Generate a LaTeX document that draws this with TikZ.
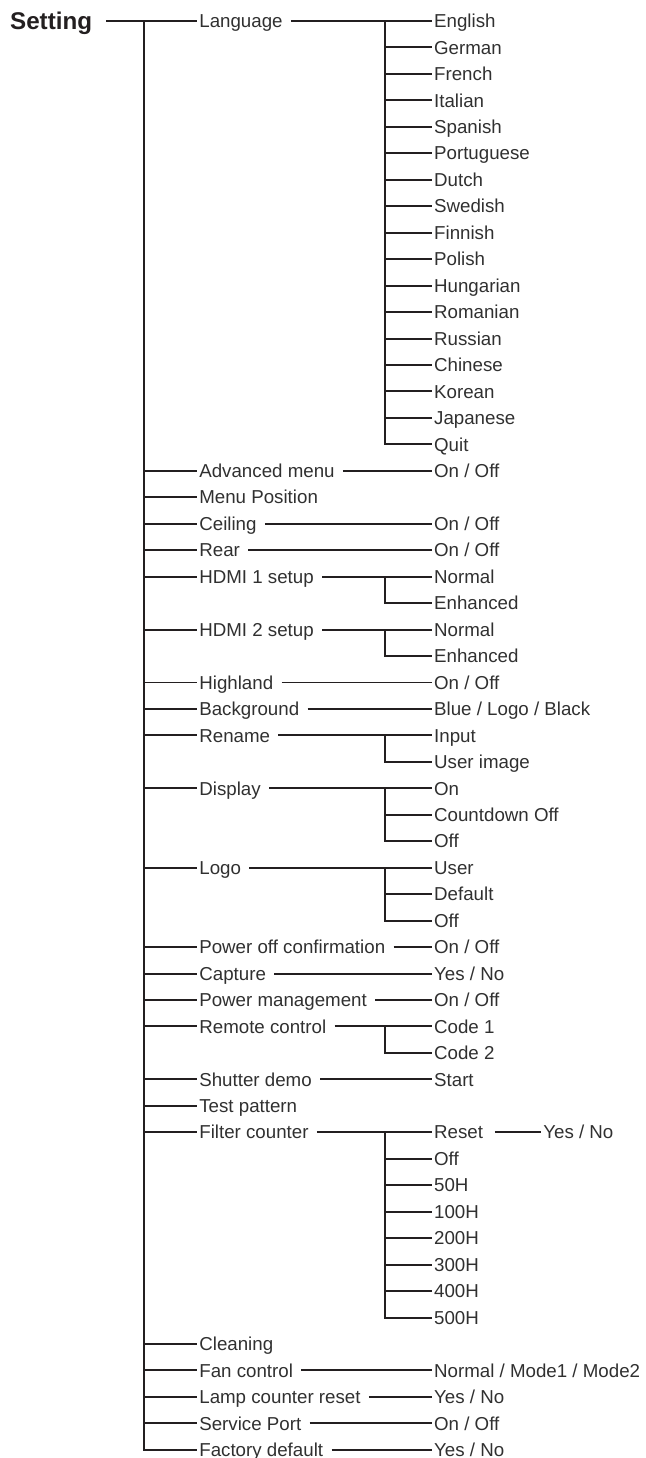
\documentclass[tikz,border=0pt]{standalone}
\usepackage{fontspec}
\setmainfont{Liberation Sans}
\usepackage{xcolor}
\usepackage{tikz}
\definecolor{ink}{RGB}{35,31,32}
\definecolor{type}{RGB}{48,48,48}

\begin{document}
\begin{tikzpicture}[
  x=1cm, y=0.8cm,
  font=\fontsize{16.1pt}{19pt}\selectfont,
  item/.style={anchor=west, inner xsep=2pt, inner ysep=0pt, text height=11.5pt,
               text depth=0pt, text=type},
  root/.style={item, inner xsep=0pt, text=ink, text height=15pt,
               font=\fontsize{20.8pt}{24pt}\selectfont\bfseries},
  link/.style={draw=ink, line width=1.7pt},
  lead/.style={link, shorten <=5pt},
]
  \useasboundingbox (0,0.794) rectangle (19.53,-54.31);

  % Root, trunk and the column where submenus fork
  \node[root] (setting) at (0.30,0) {Setting};
  \coordinate (trunk) at (4.354,0);
  \coordinate (fork) at (11.64,0);

  % First level
  \node[item] (lang)    at (5.95,0)   {Language};
  \node[item] (adv)     at (5.95,-17) {Advanced menu};
  \node[item] (menupos) at (5.95,-18) {Menu Position};
  \node[item] (ceil)    at (5.95,-19) {Ceiling};
  \node[item] (rear)    at (5.95,-20) {Rear};
  \node[item] (hdmia)   at (5.95,-21) {HDMI 1 setup};
  \node[item] (hdmib)   at (5.95,-23) {HDMI 2 setup};
  \node[item] (high)    at (5.95,-25) {Highland};
  \node[item] (bg)      at (5.95,-26) {Background};
  \node[item] (ren)     at (5.95,-27) {Rename};
  \node[item] (disp)    at (5.95,-29) {Display};
  \node[item] (logo)    at (5.95,-32) {Logo};
  \node[item] (poff)    at (5.95,-35) {Power off confirmation};
  \node[item] (capt)    at (5.95,-36) {Capture};
  \node[item] (pman)    at (5.95,-37) {Power management};
  \node[item] (remote)  at (5.95,-38) {Remote control};
  \node[item] (shut)    at (5.95,-40) {Shutter demo};
  \node[item] (test)    at (5.95,-41) {Test pattern};
  \node[item] (filt)    at (5.95,-42) {Filter counter};
  \node[item] (clean)   at (5.95,-50) {Cleaning};
  \node[item] (fan)     at (5.95,-51) {Fan control};
  \node[item] (lamp)    at (5.95,-52) {Lamp counter reset};
  \node[item] (port)    at (5.95,-53) {Service Port};
  \node[item] (fact)    at (5.95,-54) {Factory default};

  % Second level
  \foreach \lg [count=\i from 0] in {English,German,French,Italian,Spanish,
      Portuguese,Dutch,Swedish,Finnish,Polish,Hungarian,Romanian,Russian,
      Chinese,Korean,Japanese,Quit}
    \node[item] (lg\i) at (13.05,-\i) {\lg};
  \node[item] (advv)    at (13.05,-17) {On / Off};
  \node[item] (ceilv)   at (13.05,-19) {On / Off};
  \node[item] (rearv)   at (13.05,-20) {On / Off};
  \node[item] (hdmian)  at (13.05,-21) {Normal};
  \node[item] (hdmiae)  at (13.05,-22) {Enhanced};
  \node[item] (hdmibn)  at (13.05,-23) {Normal};
  \node[item] (hdmibe)  at (13.05,-24) {Enhanced};
  \node[item] (highv)   at (13.05,-25) {On / Off};
  \node[item] (bgv)     at (13.05,-26) {Blue / Logo / Black};
  \node[item] (renin)   at (13.05,-27) {Input};
  \node[item] (renuser) at (13.05,-28) {User image};
  \node[item] (dispon)  at (13.05,-29) {On};
  \node[item] (dispcd)  at (13.05,-30) {Countdown Off};
  \node[item] (dispoff) at (13.05,-31) {Off};
  \node[item] (logouser) at (13.05,-32) {User};
  \node[item] (logodef) at (13.05,-33) {Default};
  \node[item] (logooff) at (13.05,-34) {Off};
  \node[item] (poffv)   at (13.05,-35) {On / Off};
  \node[item] (captv)   at (13.05,-36) {Yes / No};
  \node[item] (pmanv)   at (13.05,-37) {On / Off};
  \node[item] (codea)   at (13.05,-38) {Code 1};
  \node[item] (codeb)   at (13.05,-39) {Code 2};
  \node[item] (shutv)   at (13.05,-40) {Start};
  \foreach \fv [count=\i from 42] in {Reset,Off,50H,100H,200H,300H,400H,500H}
    \node[item] (fc\i) at (13.05,-\i) {\fv};
  \node[item] (resetv)  at (16.35,-42) {Yes / No};
  \node[item] (fanv)    at (13.05,-51) {Normal / Mode1 / Mode2};
  \node[item] (lampv)   at (13.05,-52) {Yes / No};
  \node[item] (portv)   at (13.05,-53) {On / Off};
  \node[item] (factv)   at (13.05,-54) {Yes / No};

  % Trunk
  \draw[link, shorten <=12pt] (setting.east) -- (lang.west);
  \draw[link] (trunk) |- (fact.west);
  \foreach \n in {adv,menupos,ceil,rear,hdmia,hdmib,high,bg,ren,disp,logo,poff,
      capt,pman,remote,shut,test,filt,clean,fan,lamp,port}
    \draw[link] (trunk |- \n.west) -- (\n.west);

  % Single settings
  \draw[lead] (adv.east)  -- (advv.west);
  \draw[lead] (ceil.east) -- (ceilv.west);
  \draw[lead] (rear.east) -- (rearv.west);
  \draw[lead] (high.east) -- (highv.west);
  \draw[lead] (bg.east)   -- (bgv.west);
  \draw[lead] (poff.east) -- (poffv.west);
  \draw[lead] (capt.east) -- (captv.west);
  \draw[lead] (pman.east) -- (pmanv.west);
  \draw[lead] (shut.east) -- (shutv.west);
  \draw[lead] (fan.east)  -- (fanv.west);
  \draw[lead] (lamp.east) -- (lampv.west);
  \draw[lead] (port.east) -- (portv.west);
  \draw[lead] (fact.east) -- (factv.west);
  \draw[lead, shorten <=8pt] (fc42.east) -- (resetv.west);

  % Submenus that fork
  \draw[lead] (lang.east) -- (lg0.west);
  \draw[link] (fork |- lg0.west) |- (lg16.west);
  \foreach \i in {1,...,15}
    \draw[link] (fork |- lg\i.west) -- (lg\i.west);
  \draw[lead] (hdmia.east) -- (hdmian.west);
  \draw[link] (fork |- hdmian.west) |- (hdmiae.west);
  \draw[lead] (hdmib.east) -- (hdmibn.west);
  \draw[link] (fork |- hdmibn.west) |- (hdmibe.west);
  \draw[lead] (ren.east) -- (renin.west);
  \draw[link] (fork |- renin.west) |- (renuser.west);
  \draw[lead] (disp.east) -- (dispon.west);
  \draw[link] (fork |- dispon.west) |- (dispoff.west);
  \draw[link] (fork |- dispcd.west) -- (dispcd.west);
  \draw[lead] (logo.east) -- (logouser.west);
  \draw[link] (fork |- logouser.west) |- (logooff.west);
  \draw[link] (fork |- logodef.west) -- (logodef.west);
  \draw[lead] (remote.east) -- (codea.west);
  \draw[link] (fork |- codea.west) |- (codeb.west);
  \draw[lead] (filt.east) -- (fc42.west);
  \draw[link] (fork |- fc42.west) |- (fc49.west);
  \foreach \i in {43,...,48}
    \draw[link] (fork |- fc\i.west) -- (fc\i.west);
\end{tikzpicture}
\end{document}
